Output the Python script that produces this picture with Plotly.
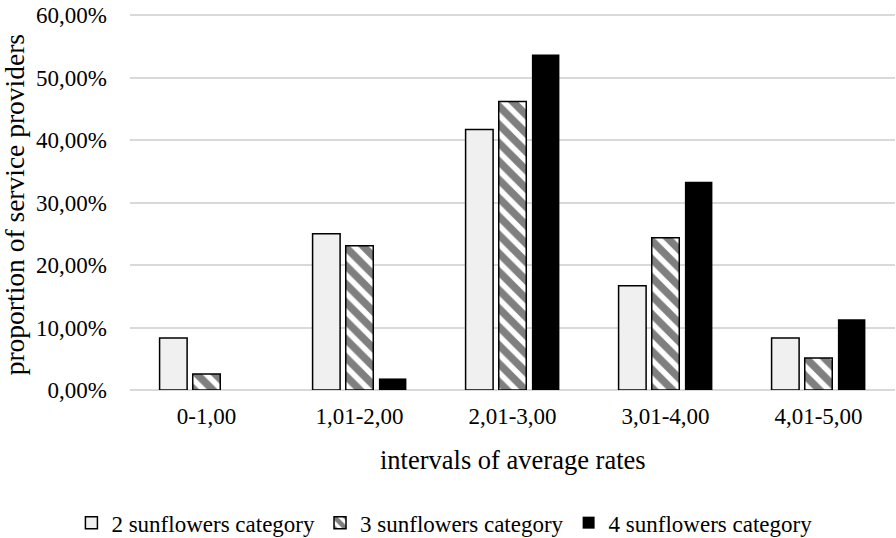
import plotly.graph_objects as go

categories = ["0-1,00", "1,01-2,00", "2,01-3,00", "3,01-4,00", "4,01-5,00"]
series_names = ["2 sunflowers category", "3 sunflowers category", "4 sunflowers category"]
vals_2 = [0.0833, 0.25, 0.4167, 0.1667, 0.0833]
vals_3 = [0.0256, 0.2308, 0.4615, 0.2436, 0.0513]
vals_4 = [0.0, 0.0185, 0.537, 0.3333, 0.1132]
y_ticks = [0, 0.1, 0.2, 0.3, 0.4, 0.5, 0.6]
y_tick_labels = ["0,00%", "10,00%", "20,00%", "30,00%", "40,00%", "50,00%", "60,00%"]
x_title = "intervals of average rates"
y_title = "proportion of service providers"

FONT = "Liberation Serif, Times New Roman, serif"

fig = go.Figure()
fig.add_trace(go.Bar(
    x=categories, y=vals_2, name=series_names[0],
    marker=dict(color="#f0f0f0", line=dict(color="black", width=1.5)),
))
fig.add_trace(go.Bar(
    x=categories, y=vals_3, name=series_names[1],
    marker=dict(color="white", line=dict(color="black", width=1.5),
                pattern=dict(shape="\\", fgcolor="black", bgcolor="white",
                             size=13, solidity=0.58)),
))
fig.add_trace(go.Bar(
    x=categories, y=vals_4, name=series_names[2],
    marker=dict(color="black", line=dict(color="black", width=0)),
))

fig.update_layout(
    width=896, height=538,
    margin=dict(l=130, r=1, t=13, b=148, autoexpand=False),
    paper_bgcolor="white", plot_bgcolor="white",
    font=dict(family=FONT, size=23, color="black"),
    barmode="group", bargap=0.35, bargroupgap=0.17,
    showlegend=True,
    legend=dict(orientation="h", xref="container", yref="paper",
                x=0.496, xanchor="center", y=-0.352, yanchor="middle",
                font=dict(family=FONT, size=23, color="black"),
                traceorder="normal", itemwidth=30),
    xaxis=dict(
        showline=False, showgrid=False, ticks="", tickfont=dict(size=23),
        ticklabelstandoff=10, automargin=False,
    ),
    yaxis=dict(
        # top slightly above 60% so the 60% gridline is not clipped at the edge
        range=[0, 0.6032], tickvals=y_ticks, ticktext=y_tick_labels,
        showgrid=True, gridcolor="#d9d9d9", gridwidth=1.5,
        zeroline=True, zerolinecolor="#d9d9d9", zerolinewidth=1.5,
        showline=False, ticks="", ticklabelstandoff=22, tickfont=dict(size=23),
        ticklabeloverflow="allow", automargin=False,
    ),
    annotations=[
        dict(text=y_title, textangle=-90, showarrow=False,
             xref="paper", yref="paper", x=-0.1516, y=0.49,
             xanchor="center", yanchor="middle",
             font=dict(family=FONT, size=27.5, color="black")),
        dict(text=x_title, showarrow=False,
             xref="paper", yref="paper", x=0.5, y=-0.1845,
             xanchor="center", yanchor="middle",
             font=dict(family=FONT, size=26.5, color="black")),
    ],
)

# remove the page's default body margin so the figure sits at the window origin
fig.write_html("out.html", config={"displayModeBar": False},
               post_script="document.body.style.margin='0';")
